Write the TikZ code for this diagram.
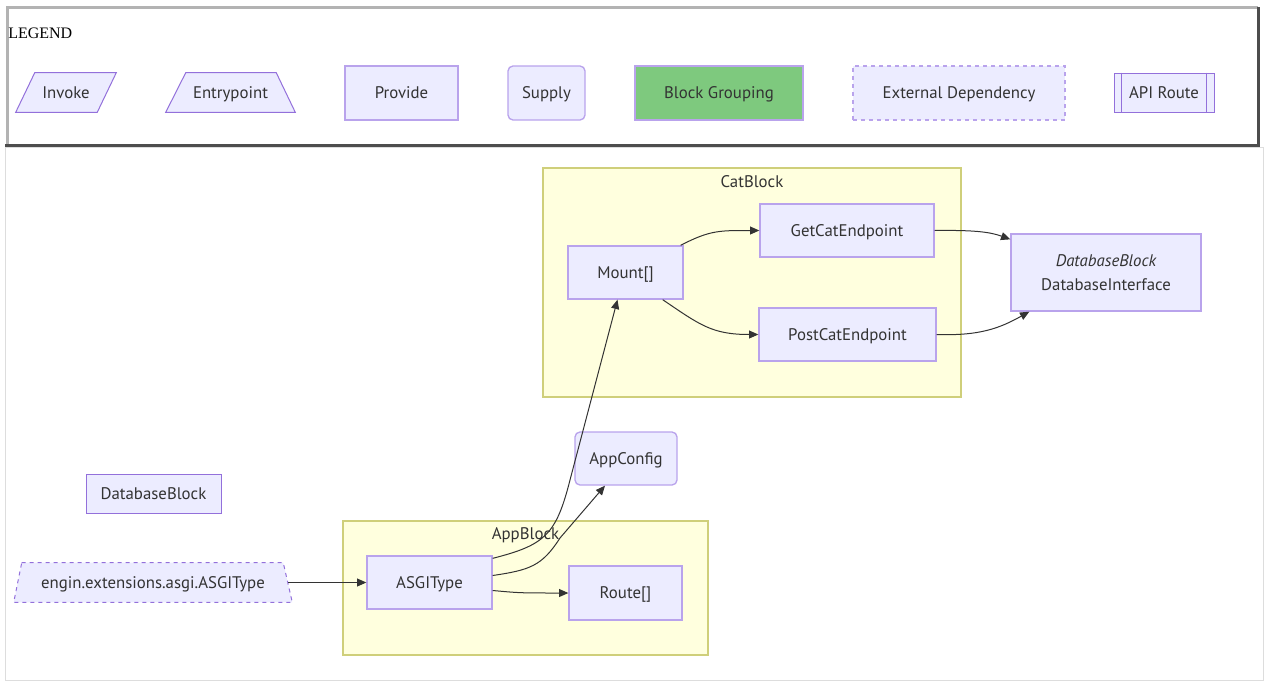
\documentclass[tikz,border=0pt]{standalone}
\usepackage{fontspec}
\setmainfont{PT Sans}
\newfontfamily\legendfont{Liberation Serif}
\usepackage{tikz}
\usetikzlibrary{arrows.meta,positioning,calc,backgrounds}
\usepackage{xcolor}
\definecolor{nodefill}{HTML}{ECECFF}
\definecolor{nodeline}{HTML}{9370DB}
\definecolor{softline}{HTML}{B9A3EC}
\definecolor{nodetext}{HTML}{333333}
\definecolor{clusterfill}{HTML}{FFFFDE}
\definecolor{clusterline}{HTML}{CFCF7A}
\definecolor{groupgreen}{HTML}{7EC97E}
\definecolor{framelight}{HTML}{B3B3B3}
\definecolor{framedark}{HTML}{4D4D4D}
\definecolor{pageline}{HTML}{DDDDDD}

\begin{document}
\begin{tikzpicture}[
  x=0.75pt, y=-0.75pt,
  font=\fontsize{12.6}{14}\selectfont,
  >={Triangle[length=7pt,width=6pt]},
  basenode/.style={
    draw=softline,
    fill=nodefill,
    line width=1pt,
    inner sep=0pt,
    text depth=0pt,
    align=center,
    text=nodetext
  },
  plainnode/.style={
    basenode,
    draw=nodeline,
    line width=0.75pt
  },
  slantbox/.style={
    inner sep=0pt,
    text depth=0pt,
    text=nodetext,
    minimum height=29.25pt
  },
  slantline/.style={draw=nodeline, fill=nodefill, line width=0.75pt},
  cluster/.style={
    draw=clusterline,
    fill=clusterfill,
    line width=1pt,
    inner sep=0pt
  },
  clusterlabel/.style={text=nodetext, text depth=0pt, inner sep=0pt},
  link/.style={->, line width=0.75pt, nodetext}
]

  \useasboundingbox (0,0) rectangle (1265,682);

  % --- LEGEND FRAME ---
  \draw[pageline, line width=0.75pt] (5,147) rectangle (1263,680);
  \draw[framelight, line width=2.25pt] (7,145) -- (7,7) -- (1258,7);
  \draw[framedark, line width=2.25pt] (1258,7) -- (1258,145) -- (5,145);
  \node[anchor=west, inner sep=0pt, font=\legendfont\fontsize{12}{14}\selectfont] (legendtitle) at (8,33) {LEGEND};

  % Legend entries
  \node[slantbox, minimum width=75pt] (invoke) at (66,92.5) {Invoke};
  \node[slantbox, minimum width=96.75pt] (entry) at (230.5,92.5) {Entrypoint};
  \node[basenode, minimum width=84.75pt, minimum height=40.5pt] (provide) at (401.5,93) {Provide};
  \node[basenode, rounded corners=3.75pt, minimum width=57.75pt, minimum height=40.5pt] (supply) at (546.5,93) {Supply};
  \node[basenode, fill=groupgreen, minimum width=126pt, minimum height=40.5pt] (grouping) at (719,93) {Block Grouping};
  \node[basenode, dashed, minimum width=159pt, minimum height=40.5pt] (external) at (959,93) {External Dependency};
  \node[plainnode, minimum width=75pt, minimum height=29.25pt] (apiroute) at (1164,92.5) {API Route};
  \draw[nodeline, line width=0.75pt] ($(apiroute.north west)+(8,0)$) -- ($(apiroute.south west)+(8,0)$);
  \draw[nodeline, line width=0.75pt] ($(apiroute.north east)+(-8,0)$) -- ($(apiroute.south east)+(-8,0)$);

  % --- CLUSTERS ---
  \node[cluster, minimum width=313.5pt, minimum height=171.75pt] (catblock) at (752,282.5) {};
  \node[clusterlabel] (catlabel) at ($(catblock.north)+(0,14)$) {CatBlock};
  \node[cluster, minimum width=273.75pt, minimum height=100.5pt] (appblock) at (525.5,588) {};
  \node[clusterlabel] (applabel) at ($(appblock.north)+(0,13)$) {AppBlock};

  % --- CatBlock nodes ---
  \node[basenode, minimum width=86.25pt, minimum height=39.75pt] (mount) at (625.5,272.5) {Mount[]};
  \node[basenode, minimum width=130.5pt, minimum height=39.75pt] (getcat) at (847,230.5) {GetCatEndpoint};
  \node[basenode, minimum width=132.75pt, minimum height=39.75pt] (postcat) at (847.5,334.5) {PostCatEndpoint};
  \node[basenode, minimum width=142.5pt, minimum height=57.75pt, font=\fontsize{12.6}{18}\selectfont] (dbiface) at (1106,272.5) {
    {\itshape DatabaseBlock}\\
    DatabaseInterface
  };

  % --- Standalone nodes ---
  \node[basenode, rounded corners=3.75pt, minimum width=76.5pt, minimum height=39.75pt] (appconfig) at (626,458.5) {AppConfig};
  \node[plainnode, minimum width=101.25pt, minimum height=29.25pt] (dbblock) at (153.5,493.5) {DatabaseBlock};
  \node[slantbox, minimum width=208.5pt] (asgiext) at (153,582.5) {engin.extensions.asgi.ASGIType};

  % --- AppBlock nodes ---
  \node[basenode, minimum width=93.75pt, minimum height=39.75pt] (asgitype) at (429.5,582.5) {ASGIType};
  \node[basenode, minimum width=84.75pt, minimum height=40.5pt] (route) at (625.5,593) {Route[]};

  % Slanted outlines behind their text
  \begin{scope}[on background layer]
    \draw[slantline] ($(invoke.north west)+(19,0)$) -- (invoke.north east)
      -- ($(invoke.south east)+(-19,0)$) -- (invoke.south west) -- cycle;
    \draw[slantline] ($(entry.north west)+(20,0)$) -- ($(entry.north east)+(-19,0)$)
      -- (entry.south east) -- (entry.south west) -- cycle;
    \draw[slantline, dashed] ($(asgiext.north west)+(8,0)$) -- ($(asgiext.north east)+(-9,0)$)
      -- (asgiext.south east) -- (asgiext.south west) -- cycle;
  \end{scope}

  % Connecting Arrows
  \draw[link] ($(asgiext.east)+(-4,0)$) -- (asgitype.west);
  \draw[link] ($(asgitype.north east)+(0,3)$) .. controls (545,545) and (556,535) .. (570,480) -- ($(mount.south)+(-8,0)$);
  \draw[link] ($(asgitype.east)+(0,-7)$) .. controls (530,570) and (542,566) .. (560,538) -- ($(appconfig.south)+(-21,0)$);
  \draw[link] ($(asgitype.east)+(0,8)$) .. controls (520,593) .. (route.west);
  \draw[link] ($(mount.north east)+(-3,0)$) .. controls (710,230) and (720,230.5) .. (getcat.west);
  \draw[link] ($(mount.south east)+(-21,0)$) .. controls (700,325) and (712,334.5) .. (postcat.west);
  \draw[link] (getcat.east) .. controls (975,230) and (990,232) .. ($(dbiface.north west)+(0,6)$);
  \draw[link] (postcat.east) .. controls (980,336) and (1000,328) .. ($(dbiface.south west)+(19,0)$);

\end{tikzpicture}
\end{document}
